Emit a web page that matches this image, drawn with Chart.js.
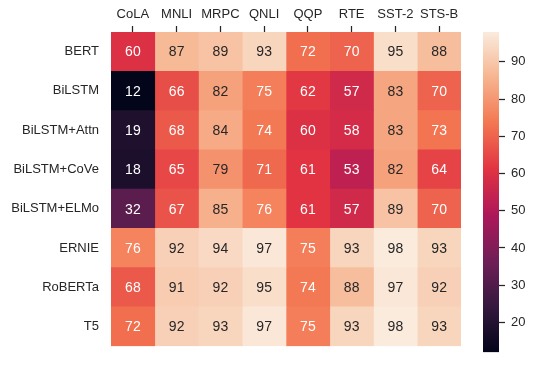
<!DOCTYPE html>
<html lang="en">
<head>
  <meta charset="UTF-8">
  <title>Heatmap</title>
  <script src="https://cdn.jsdelivr.net/npm/chart.js"></script>
  <style>
    body { margin: 0; padding: 0; background: #ffffff; }
    #wrap { position: relative; width: 534px; height: 366px; }
    #heat { position: absolute; left: 0; top: 0; }
    #cbar { position: absolute; left: 483px; top: 0; }
  </style>
</head>
<body>
  <div id="wrap">
    <canvas id="heat" width="534" height="366"></canvas>
    <canvas id="cbar" width="51" height="366"></canvas>
  </div>
  <script>
    const models = ['BERT', 'BiLSTM', 'BiLSTM+Attn', 'BiLSTM+CoVe', 'BiLSTM+ELMo', 'ERNIE', 'RoBERTa', 'T5'];
    const tasks = ['CoLA', 'MNLI', 'MRPC', 'QNLI', 'QQP', 'RTE', 'SST-2', 'STS-B'];
    const scores = [
      [60, 87, 89, 93, 72, 70, 95, 88],
      [12, 66, 82, 75, 62, 57, 83, 70],
      [19, 68, 84, 74, 60, 58, 83, 73],
      [18, 65, 79, 71, 61, 53, 82, 64],
      [32, 67, 85, 76, 61, 57, 89, 70],
      [76, 92, 94, 97, 75, 93, 98, 93],
      [68, 91, 92, 95, 74, 88, 97, 92],
      [72, 92, 93, 97, 75, 93, 98, 93]
    ];
    const cbTicks = [20, 30, 40, 50, 60, 70, 80, 90];
    const vmin = 12, vmax = 98;

    // rough "rocket" colormap
    const stops = [
      [0.0, [3, 5, 26]],
      [0.143, [53, 25, 62]],
      [0.286, [112, 31, 87]],
      [0.429, [173, 23, 89]],
      [0.571, [225, 51, 66]],
      [0.714, [243, 118, 81]],
      [0.857, [246, 180, 143]],
      [1.0, [250, 235, 221]]
    ];
    function rocketT(t) {
      t = Math.max(0, Math.min(1, t));
      for (let k = 1; k < stops.length; k++) {
        if (t <= stops[k][0]) {
          const [t0, c0] = stops[k - 1], [t1, c1] = stops[k];
          const f = (t - t0) / (t1 - t0);
          return c0.map((v, i) => Math.round(v + (c1[i] - v) * f));
        }
      }
      return stops[stops.length - 1][1];
    }
    const rgb = c => `rgb(${c[0]},${c[1]},${c[2]})`;
    const rocket = v => rgb(rocketT((v - vmin) / (vmax - vmin)));
    function lum(c) {
      const l = c.map(v => {
        v /= 255;
        return v <= 0.03928 ? v / 12.92 : Math.pow((v + 0.055) / 1.055, 2.4);
      });
      return 0.2126 * l[0] + 0.7152 * l[1] + 0.0722 * l[2];
    }

    const textCol = '#262626';
    const font = { family: '"Liberation Sans", Arial, sans-serif', size: 13 };

    const annot = {
      id: 'annot',
      afterDatasetsDraw(chart) {
        const ctx = chart.ctx;
        ctx.save();
        ctx.font = `14px ${font.family}`;
        ctx.textAlign = 'center';
        ctx.textBaseline = 'middle';
        chart.data.datasets.forEach((ds, j) => {
          chart.getDatasetMeta(j).data.forEach((el, i) => {
            const v = scores[i][j];
            const c = rocketT((v - vmin) / (vmax - vmin));
            ctx.fillStyle = lum(c) > 0.408 ? textCol : '#ffffff';
            const p = el.getCenterPoint();
            ctx.fillText(String(v), p.x, p.y + 1);
          });
        });
        ctx.restore();
      }
    };

    new Chart(document.getElementById('heat'), {
      type: 'bar',
      data: {
        labels: models,
        datasets: tasks.map((t, j) => ({
          label: t,
          data: models.map(() => [j, j + 1]),
          backgroundColor: models.map((m, i) => rocket(scores[i][j])),
          borderWidth: 0,
          barPercentage: 1,
          categoryPercentage: 1,
          grouped: false
        }))
      },
      options: {
        indexAxis: 'y',
        responsive: false,
        animation: false,
        layout: { padding: { left: 0, top: 0, right: 73, bottom: 9 } },
        plugins: { legend: { display: false }, tooltip: { enabled: false } },
        scales: {
          x: {
            type: 'linear',
            position: 'top',
            min: 0,
            max: 8,
            afterBuildTicks: s => { s.ticks = tasks.map((t, j) => ({ value: j + 0.5 })); },
            afterFit: s => { s.height = 32; },
            ticks: {
              callback: (v, i) => tasks[i],
              color: textCol,
              font: font,
              padding: 4,
              maxRotation: 0,
              autoSkip: false
            },
            grid: { drawOnChartArea: false, tickLength: 6, tickColor: textCol, tickWidth: 1.25 },
            border: { display: false }
          },
          y: {
            type: 'category',
            afterFit: s => { s.width = 111; },
            ticks: { color: textCol, font: font, padding: 12 },
            grid: { display: false, drawTicks: false },
            border: { display: false }
          }
        }
      },
      plugins: [annot]
    });

    new Chart(document.getElementById('cbar'), {
      type: 'bar',
      data: {
        labels: [''],
        datasets: [{
          data: [[vmin, vmax]],
          backgroundColor: c => {
            const a = c.chart.chartArea;
            if (!a) return rocket(vmax);
            const g = c.chart.ctx.createLinearGradient(0, a.bottom, 0, a.top);
            for (let k = 0; k <= 40; k++) g.addColorStop(k / 40, rgb(rocketT(k / 40)));
            return g;
          },
          borderWidth: 0,
          barPercentage: 1,
          categoryPercentage: 1
        }]
      },
      options: {
        responsive: false,
        animation: false,
        layout: { padding: { left: 0, top: 32, right: 0, bottom: 9 } },
        plugins: { legend: { display: false }, tooltip: { enabled: false } },
        scales: {
          x: { display: false },
          y: {
            position: 'right',
            min: vmin,
            max: vmax,
            afterBuildTicks: s => { s.ticks = cbTicks.map(v => ({ value: v })); },
            afterFit: s => { s.width = 35; },
            ticks: { color: textCol, font: font, padding: 6 },
            grid: { drawOnChartArea: false, tickLength: 6, tickColor: textCol, tickWidth: 1.25 },
            border: { display: false }
          }
        }
      }
    });
  </script>
</body>
</html>
